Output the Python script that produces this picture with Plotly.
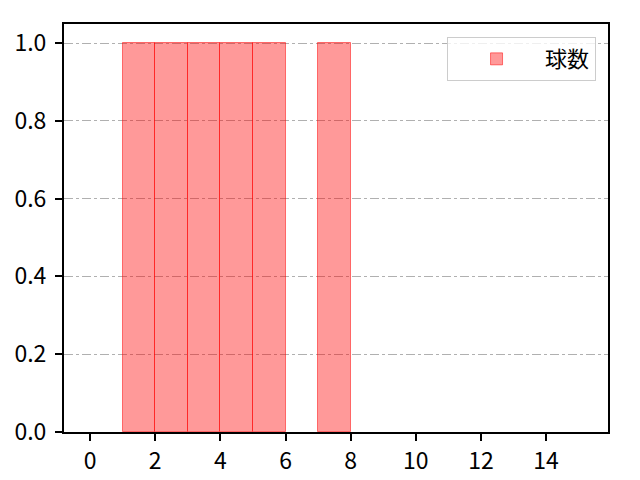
import plotly.graph_objects as go

# 投球数のヒストグラム（ビン左端と度数）
bin_left = [1, 2, 3, 4, 5, 7]
counts = [1, 1, 1, 1, 1, 1]
series_name = "球数"

x_ticks = [0, 2, 4, 6, 8, 10, 12, 14]
y_ticks = [0.0, 0.2, 0.4, 0.6, 0.8, 1.0]

FONT = "Noto Sans CJK JP"


def main():
    fig = go.Figure()

    fig.add_trace(go.Bar(
        x=bin_left,
        y=counts,
        width=1,
        offset=0,
        name=series_name,
        marker=dict(
            color="rgba(255,0,0,0.4)",
            line=dict(color="rgba(255,0,0,0.5)", width=1),
        ),
        showlegend=True,
    ))

    axis_common = dict(
        showline=True,
        linecolor="black",
        linewidth=2,
        mirror=True,
        ticks="outside",
        ticklen=7,
        tickwidth=1.5,
        tickcolor="black",
        zeroline=False,
        automargin=False,
        tickfont=dict(family=FONT, size=23, color="black"),
    )

    fig.update_xaxes(
        range=[-0.8, 15.9],
        tickvals=x_ticks,
        showgrid=False,
        ticklabelstandoff=0,
        **axis_common,
    )
    fig.update_yaxes(
        range=[0, 1.049],
        tickvals=y_ticks,
        tickformat=".1f",
        showgrid=True,
        gridcolor="#b0b0b0",
        gridwidth=1,
        griddash="dashdot",
        ticklabelstandoff=4,
        **axis_common,
    )

    fig.update_layout(
        width=640,
        height=480,
        # ページ本体の8pxの余白を差し引いた値
        margin=dict(l=56, r=40, t=16, b=56),
        plot_bgcolor="white",
        paper_bgcolor="white",
        bargap=0,
        font=dict(family=FONT, size=22, color="black"),
        legend=dict(
            x=0.978,
            y=0.968,
            xanchor="right",
            yanchor="top",
            bgcolor="rgba(255,255,255,0.8)",
            bordercolor="#cccccc",
            borderwidth=1,
            itemwidth=87,
            font=dict(family=FONT, size=22, color="black"),
        ),
    )

    fig.write_html("out.html")


if __name__ == "__main__":
    main()
